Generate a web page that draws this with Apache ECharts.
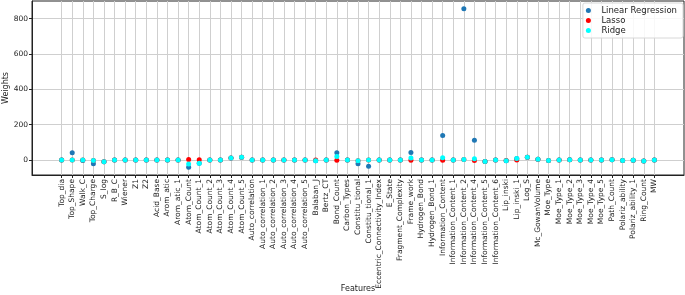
<html style="height: 100%">
<head>
    <meta charset="utf-8">
</head>
<body style="height: 100%; margin: 0; background: #fff">
    <div id="container" style="width: 685px; height: 295px"></div>
    <script type="text/javascript" src="https://cdn.jsdelivr.net/npm/echarts@6.0.0/dist/echarts.min.js"></script>
    <script type="text/javascript">
        var features = ['Top_dia', 'Top_Shape', 'Walk_C', 'Top_Charge', 'S_log', 'R_B_C', 'Wiener', 'Z1', 'Z2',
            'Acid_Base', 'Arom_atic', 'Arom_atic_1', 'Atom_Count', 'Atom_Count_1', 'Atom_Count_2', 'Atom_Count_3',
            'Atom_Count_4', 'Atom_Count_5', 'Auto_correlation', 'Auto_correlation_1', 'Auto_correlation_2',
            'Auto_correlation_3', 'Auto_correlation_4', 'Auto_correlation_5', 'Balaban_J', 'Bertz_CT', 'Bond_Count',
            'Carbon_Types', 'Constitu_tional', 'Constitu_tional_1', 'Eccentric_Connectivity_Index', 'E_State',
            'Fragment_Complexity', 'Frame_work', 'Hydrogen_Bond', 'Hydrogen_Bond_1', 'Information_Content',
            'Information_Content_1', 'Information_Content_2', 'Information_Content_4', 'Information_Content_5',
            'Information_Content_6', 'Lip_inski', 'Lip_inski_1', 'Log_S', 'Mc_GowanVolume', 'Moe_Type', 'Moe_Type_1',
            'Moe_Type_2', 'Moe_Type_3', 'Moe_Type_4', 'Moe_Type_5', 'Path_Count', 'Polariz_ability',
            'Polariz_ability_1', 'Ring_Count', 'MW'];

        var linReg = [0, 41, -3, -21, -10, 0, 0, 0, 0, 0, 0, 0, -41, -19, 0, 0, 11, 15, 0, 0, 0, 0, 0, 0, -4, 0, 41, 0,
            -21, -35, 0, 0, 0, 43, 0, 0, 138, 0, 856, 112, -9, 0, -5, 9, 15, 4, -3, 0, 2, 0, 0, 0, 2, -3, -2, -6, 0];
        var lasso = [0, 0, 0, -3, -10, 0, 0, 0, 0, 0, 0, 0, 3, 2, 0, 0, 11, 15, 0, 0, 0, 0, 0, 0, 0, 0, -2, 0,
            -4, 0, 0, 0, 0, -2, 0, 0, -2, 0, 3, -3, -9, 0, -3, 0, 15, 4, -3, 0, 2, 0, 0, 0, 2, -3, -2, -6, 0];
        var ridge = [0, 0, 0, -3, -10, 0, 0, 0, 0, 0, 0, 0, -23, -19, 0, 0, 11, 15, 0, 0, 0, 0, 0, 0, -4, 0, 20, 0,
            -4, 0, 0, 0, 0, 11, 0, 0, 13, 0, 3, 7, -9, 0, -5, 9, 15, 4, -3, 0, 2, 0, 0, 0, 2, -3, -2, -6, 0];
        var yTicks = [0, 200, 400, 600, 800];

        var xTicks = features.map(function (f, i) { return i; });
        function pairs(vals) {
            return vals.map(function (v, i) { return [i, v]; });
        }

        var chart = echarts.init(document.getElementById('container'));
        var font = 'DejaVu Sans';
        var gridColor = '#cfcfcf';

        var option = {
            animation: false,
            backgroundColor: '#fff',
            textStyle: { fontFamily: font },
            grid: {
                left: 32, right: 1, top: 1, bottom: 120,
                containLabel: false,
                outerBoundsMode: 'none',
                show: true, borderColor: '#222', borderWidth: 1
            },
            legend: {
                orient: 'vertical',
                right: 2, top: 3,
                padding: [3, 6, 3, 3],
                itemGap: 1,
                itemWidth: 18, itemHeight: 5,
                icon: 'circle',
                backgroundColor: 'rgba(255,255,255,0.85)',
                borderColor: '#d8d8d8', borderWidth: 1, borderRadius: 2,
                textStyle: { fontFamily: font, fontSize: 8.5, color: '#222', padding: [0, 0, 0, -1] },
                data: ['Linear Regression', 'Lasso', 'Ridge']
            },
            xAxis: {
                type: 'value',
                min: -2.8, max: 58.8,
                name: 'Features',
                nameLocation: 'middle',
                nameGap: 110,
                nameMoveOverlap: false,
                nameTextStyle: { fontFamily: font, fontSize: 8, color: '#222' },
                axisLine: { show: true, onZero: false, lineStyle: { color: '#222' } },
                axisTick: { show: true, length: 3, customValues: xTicks, lineStyle: { color: '#222' } },
                axisLabel: {
                    customValues: xTicks,
                    rotate: 90, fontSize: 7.5, color: '#222', margin: 4,
                    formatter: function (v) { return features[Math.round(v)] || ''; }
                },
                splitLine: { show: true, lineStyle: { color: gridColor, width: 1 } }
            },
            yAxis: {
                type: 'value',
                min: -85, max: 900,
                name: 'Weights',
                nameLocation: 'middle',
                nameGap: 22,
                nameMoveOverlap: false,
                nameTextStyle: { fontFamily: font, fontSize: 8, color: '#222' },
                axisLine: { show: true, onZero: false, lineStyle: { color: '#222' } },
                axisTick: { show: true, length: 3, customValues: yTicks, lineStyle: { color: '#222' } },
                axisLabel: { customValues: yTicks, fontSize: 7.5, color: '#222', margin: 4 },
                splitLine: { show: true, lineStyle: { color: gridColor, width: 1 } }
            },
            series: [{
                name: 'Linear Regression',
                type: 'scatter',
                symbolSize: 5,
                itemStyle: { color: '#1f77b4', opacity: 1 },
                data: pairs(linReg)
            }, {
                name: 'Lasso',
                type: 'scatter',
                symbolSize: 5,
                itemStyle: { color: '#ff0000', opacity: 1 },
                data: pairs(lasso)
            }, {
                name: 'Ridge',
                type: 'scatter',
                symbolSize: 5,
                itemStyle: { color: '#00ffff', opacity: 1 },
                data: pairs(ridge)
            }]
        };

        chart.setOption(option);
    </script>
</body>
</html>
